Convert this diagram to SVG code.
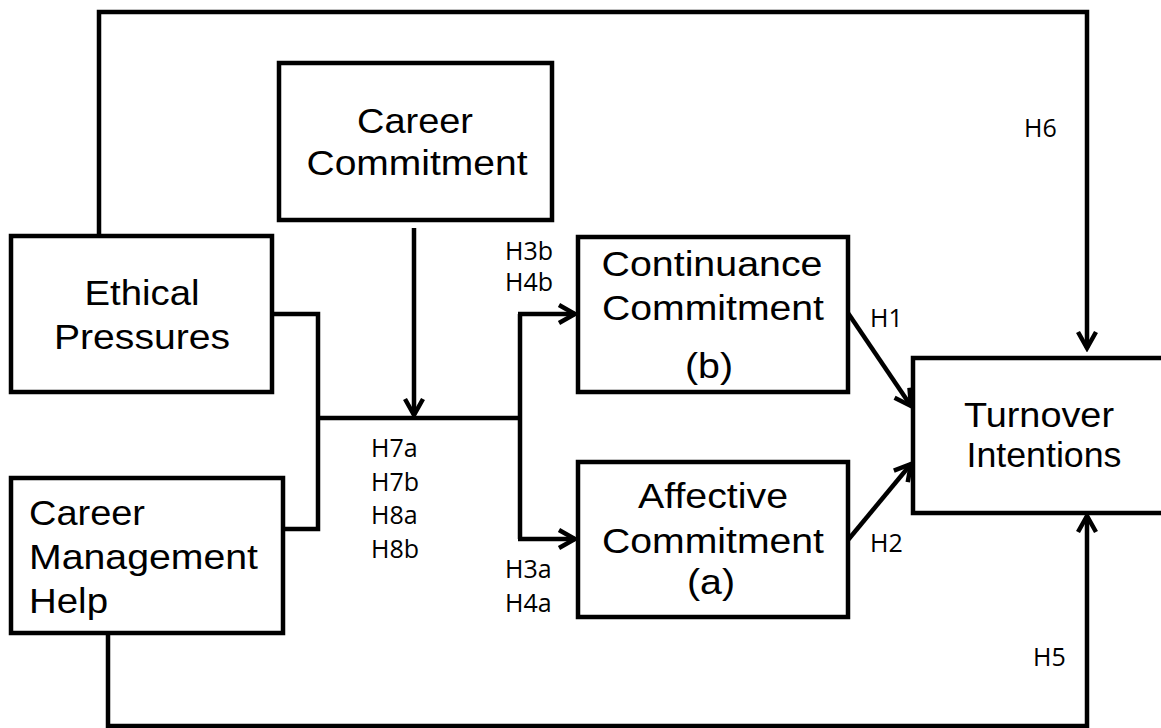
<svg xmlns="http://www.w3.org/2000/svg" width="1161" height="728" viewBox="0 0 1161 728">
<style>
.box{fill:#fff;stroke:#000;stroke-width:4.5}
.big{font-family:"Liberation Sans",Arial,sans-serif;font-size:35px;fill:#000;text-anchor:middle}
.left{text-anchor:start}
.lbl{font-family:"Open Sans","Liberation Sans",sans-serif;font-size:25px;fill:#000}
.conn{fill:none;stroke:#000;stroke-width:4.5;stroke-linejoin:miter}
</style>
<defs>
<marker id="arr" viewBox="-2 -2 22 24" refX="16" refY="10" markerWidth="22" markerHeight="24" markerUnits="userSpaceOnUse" orient="auto">
<path d="M0,1 L16,10 L0,19" fill="none" stroke="#000" stroke-width="4.5" stroke-linejoin="miter"/>
</marker>
</defs>
<rect width="1161" height="728" fill="#fff"/>
<g id="connectors">
<path class="conn" d="M99 236 V12 H1087 V348" marker-end="url(#arr)"/>
<path class="conn" d="M108 633 V726 H1087 V516" marker-end="url(#arr)"/>
<path class="conn" d="M414 228 V415" marker-end="url(#arr)"/>
<path class="conn" d="M272 314 H318 V529 H283"/>
<path class="conn" d="M318 418 H520"/>
<path class="conn" d="M520 314 V539"/>
<path class="conn" d="M518 314 H575" marker-end="url(#arr)"/>
<path class="conn" d="M518 539 H575" marker-end="url(#arr)"/>
<path class="conn" d="M848 313 L911 406" marker-end="url(#arr)"/>
<path class="conn" d="M848 540 L911 464" marker-end="url(#arr)"/>
</g>
<g id="career-commitment">
<rect class="box" x="279" y="63" width="273" height="157"/>
<text class="big" x="415" y="133" textLength="116" lengthAdjust="spacingAndGlyphs">Career</text>
<text class="big" x="417" y="175" textLength="221" lengthAdjust="spacingAndGlyphs">Commitment</text>
</g>
<g id="ethical-pressures">
<rect class="box" x="11" y="236" width="261" height="156"/>
<text class="big" x="142" y="305" textLength="115" lengthAdjust="spacingAndGlyphs">Ethical</text>
<text class="big" x="142" y="349" textLength="176" lengthAdjust="spacingAndGlyphs">Pressures</text>
</g>
<g id="career-management-help">
<rect class="box" x="11" y="478" width="272" height="155"/>
<text class="big left" x="29" y="525" textLength="116" lengthAdjust="spacingAndGlyphs">Career</text>
<text class="big left" x="29" y="569" textLength="229" lengthAdjust="spacingAndGlyphs">Management</text>
<text class="big left" x="29" y="613" textLength="79" lengthAdjust="spacingAndGlyphs">Help</text>
</g>
<g id="continuance-commitment">
<rect class="box" x="578" y="237" width="270" height="155"/>
<text class="big" x="712" y="276" textLength="221" lengthAdjust="spacingAndGlyphs">Continuance</text>
<text class="big" x="713" y="320" textLength="222" lengthAdjust="spacingAndGlyphs">Commitment</text>
<text class="big" x="709" y="378" textLength="48" lengthAdjust="spacingAndGlyphs">(b)</text>
</g>
<g id="affective-commitment">
<rect class="box" x="578" y="462" width="270" height="155"/>
<text class="big" x="713" y="508" textLength="150" lengthAdjust="spacingAndGlyphs">Affective</text>
<text class="big" x="713" y="553" textLength="222" lengthAdjust="spacingAndGlyphs">Commitment</text>
<text class="big" x="711" y="594" textLength="48" lengthAdjust="spacingAndGlyphs">(a)</text>
</g>
<g id="turnover-intentions">
<rect class="box" x="913" y="358" width="260" height="155"/>
<text class="big" x="1039" y="427" textLength="150" lengthAdjust="spacingAndGlyphs">Turnover</text>
<text class="big" x="1044" y="467" textLength="155" lengthAdjust="spacingAndGlyphs">Intentions</text>
</g>
<g id="labels">
<text class="lbl" x="1024" y="137">H6</text>
<text class="lbl" x="505" y="260">H3b</text>
<text class="lbl" x="505" y="291">H4b</text>
<text class="lbl" x="371" y="457">H7a</text>
<text class="lbl" x="371" y="491">H7b</text>
<text class="lbl" x="371" y="524">H8a</text>
<text class="lbl" x="371" y="558">H8b</text>
<text class="lbl" x="505" y="578">H3a</text>
<text class="lbl" x="505" y="612">H4a</text>
<text class="lbl" x="870" y="327">H1</text>
<text class="lbl" x="870" y="552">H2</text>
<text class="lbl" x="1033" y="666">H5</text>
</g>
</svg>
